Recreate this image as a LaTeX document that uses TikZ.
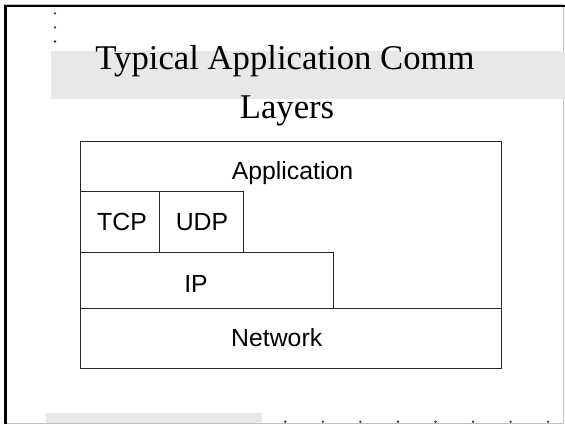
\documentclass[tikz,border=0pt]{standalone}
\usepackage{fontspec}
\setmainfont{Liberation Serif}
\newfontfamily\boxfont{Liberation Sans}
\definecolor{bandgray}{HTML}{E8E8E8}
\definecolor{framegray}{HTML}{C0C0C0}
\begin{document}
\begin{tikzpicture}[x=1bp,y=-1bp,
  layerbox/.style={draw=black!85,line width=0.9bp,rectangle,inner sep=0pt,outer sep=0pt},
  layertext/.style={font=\boxfont\fontsize{24.8bp}{28bp}\selectfont,anchor=base,inner sep=0pt},
  titletext/.style={font=\fontsize{34.7bp}{40bp}\selectfont,anchor=base,inner sep=0pt},
  bullet/.style={fill=black!80,circle,inner sep=0pt,minimum size=2.6bp}]
\useasboundingbox (0,0) rectangle (565,424);
% slide frame
\draw[framegray,line width=0.8bp] (4,4) -- (563.5,4) -- (563.5,423.3) -- (4,423.3);
\draw[black,line width=2.6bp] (5.5,424) -- (5.5,6) -- (565,6);
% title band
\fill[bandgray] (51,51) rectangle (565,98.7);
\node[titletext] (title1) at (285,69.3) {Typical Application Comm};
\node[titletext] (title2) at (287,118.7) {Layers};
% top-left dots
\node[bullet] (d1) at (55,13.3) {};
\node[bullet] (d2) at (55,27.3) {};
\node[bullet] (d3) at (55,41.5) {};
% bottom band and dots
\fill[bandgray] (46,413) rectangle (262,423);
\foreach \i in {0,...,7} {
  \node[bullet] (b\i) at (285.3+37.55*\i,421.7) {};
}
% layer stack
\node[layerbox,minimum width=421bp,minimum height=227bp] (stack) at (291.2,254.5) {};
\node[layerbox,minimum width=78.3bp,minimum height=61bp] (tcp) at (119.85,221.5) {};
\node[layerbox,minimum width=84bp,minimum height=61bp] (udp) at (201,221.5) {};
\node[layerbox,minimum width=252.3bp,minimum height=56bp] (ip) at (206.85,280) {};
\node[layerbox,minimum width=421bp,minimum height=60bp] (net) at (291.2,338) {};
% labels
\node[layertext] (lapp) at (292.5,179.3) {Application};
\node[layertext] (ltcp) at (122,230) {TCP};
\node[layertext] (ludp) at (202,230) {UDP};
\node[layertext] (lip) at (196,292.3) {IP};
\node[layertext] (lnet) at (276.7,346.7) {Network};
\end{tikzpicture}
\end{document}
